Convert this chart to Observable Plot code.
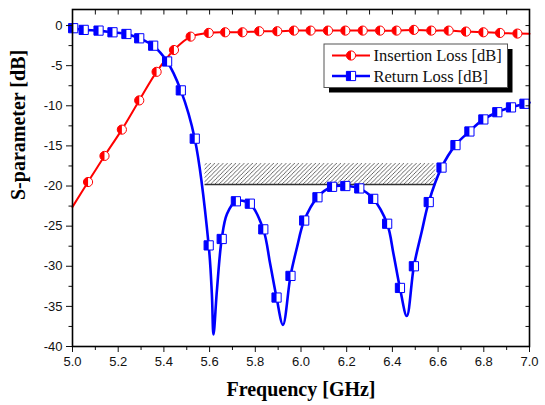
<!DOCTYPE html>
<html><head><meta charset="utf-8">
<script src="https://cdn.jsdelivr.net/npm/d3@7"></script>
<script src="https://cdn.jsdelivr.net/npm/@observablehq/plot@0.6"></script>
<style>
html,body{margin:0;padding:0;background:#fff;}
#chart{width:545px;height:405px;}
</style></head><body><div id="chart"></div>
<script>
// ---- Data ----
const xTitle = "Frequency [GHz]";
const yTitle = "S-parameter [dB]";
const seriesNames = ["Insertion Loss [dB]", "Return Loss [dB]"];

const xMajorTicks = [5.0, 5.2, 5.4, 5.6, 5.8, 6.0, 6.2, 6.4, 6.6, 6.8, 7.0];
const xMinorTicks = [5.1, 5.3, 5.5, 5.7, 5.9, 6.1, 6.3, 6.5, 6.7, 6.9];
const yMajorTicks = [0, -5, -10, -15, -20, -25, -30, -35, -40];
const yMinorTicks = [-2.5, -7.5, -12.5, -17.5, -22.5, -27.5, -32.5, -37.5];

// Insertion loss (S21): markers
const ilMarkFreq = [5.068, 5.140, 5.216, 5.292, 5.368, 5.444, 5.517, 5.596, 5.668, 5.744, 5.817, 5.896, 5.969, 6.042, 6.118, 6.194, 6.270, 6.346, 6.418, 6.494, 6.570, 6.646, 6.722, 6.798, 6.871, 6.947];
const ilMarkDb   = [-19.5, -16.25, -12.97, -9.33, -5.77, -3.05, -1.38, -0.92, -0.84, -0.84, -0.71, -0.71, -0.63, -0.63, -0.63, -0.63, -0.63, -0.63, -0.63, -0.54, -0.63, -0.63, -0.75, -0.84, -0.92, -1.0];
// Insertion loss: curve points
const ilLineFreq = [5.0, 5.068, 5.140, 5.216, 5.292, 5.368, 5.444, 5.517, 5.596, 5.668, 5.744, 5.817, 5.896, 5.969, 6.042, 6.118, 6.194, 6.270, 6.346, 6.418, 6.494, 6.570, 6.646, 6.722, 6.798, 6.871, 6.947, 7.0];
const ilLineDb   = [-22.6, -19.5, -16.25, -12.97, -9.33, -5.77, -3.05, -1.38, -0.92, -0.84, -0.84, -0.71, -0.71, -0.63, -0.63, -0.63, -0.63, -0.63, -0.63, -0.63, -0.54, -0.63, -0.63, -0.75, -0.84, -0.92, -1.0, -1.02];

// Return loss (S11): markers
const rlMarkFreq = [5.003, 5.049, 5.114, 5.175, 5.236, 5.292, 5.353, 5.414, 5.474, 5.535, 5.596, 5.653, 5.715, 5.776, 5.835, 5.893, 5.954, 6.014, 6.072, 6.136, 6.194, 6.255, 6.316, 6.377, 6.433, 6.494, 6.559, 6.615, 6.676, 6.737, 6.798, 6.859, 6.919, 6.978];
const rlMarkDb   = [-0.33, -0.54, -0.63, -0.84, -1.05, -1.59, -2.51, -4.48, -8.08, -14.1, -27.4, -26.6, -21.9, -22.2, -25.4, -33.9, -31.2, -24.3, -21.4, -20.1, -20.0, -20.3, -21.6, -24.7, -32.7, -30.0, -22.0, -17.7, -14.9, -13.2, -11.7, -10.8, -10.2, -9.75];
// Return loss: curve points (markers plus points read at the dips)
const rlLineFreq = [5.0, 5.049, 5.114, 5.175, 5.236, 5.292, 5.353, 5.414, 5.474, 5.535, 5.596, 5.610, 5.617, 5.632, 5.653, 5.676, 5.715, 5.776, 5.835, 5.865, 5.893, 5.921, 5.954, 5.982, 6.014, 6.072, 6.136, 6.194, 6.255, 6.316, 6.377, 6.405, 6.433, 6.463, 6.494, 6.529, 6.559, 6.615, 6.676, 6.737, 6.798, 6.859, 6.919, 6.978, 7.0];
const rlLineDb   = [-0.33, -0.54, -0.63, -0.84, -1.05, -1.59, -2.51, -4.48, -8.08, -14.1, -27.4, -33.5, -38.5, -33.0, -26.6, -23.5, -21.9, -22.2, -25.4, -29.7, -33.9, -37.3, -31.2, -27.7, -24.3, -21.4, -20.1, -20.0, -20.3, -21.6, -24.7, -28.5, -32.7, -36.2, -30.0, -25.6, -22.0, -17.7, -14.9, -13.2, -11.7, -10.8, -10.2, -9.75, -9.6];

// Hatched specification band
const bandFreq = [5.58, 6.59];
const bandDb = [-19.8, -17.2];

// ---- Build tables ----
const zip = (xs, ys) => xs.map((x, i) => ({x, y: ys[i]}));
const ilMarks = zip(ilMarkFreq, ilMarkDb), ilLine = zip(ilLineFreq, ilLineDb);
const rlMarks = zip(rlMarkFreq, rlMarkDb), rlLine = zip(rlLineFreq, rlLineDb);
const band = [{x1: bandFreq[0], x2: bandFreq[1], y1: bandDb[0], y2: bandDb[1]}];

// custom symbols
const squareFull = {draw(c, s) { const h = Math.sqrt(s) / 2; c.moveTo(-h, -h); c.lineTo(h, -h); c.lineTo(h, h); c.lineTo(-h, h); c.closePath(); }};
const squareLeft = {draw(c, s) { const h = Math.sqrt(s) / 2; c.moveTo(-h, -h); c.lineTo(0, -h); c.lineTo(0, h); c.lineTo(-h, h); c.closePath(); }};
const circleFull = {draw(c, s) { const r = Math.sqrt(s / Math.PI); c.moveTo(r, 0); c.arc(0, 0, r, 0, 2 * Math.PI); c.closePath(); }};
const circleLeft = {draw(c, s) { const r = Math.sqrt(s / Math.PI); c.moveTo(0, -r); c.arc(0, 0, r, -Math.PI / 2, Math.PI / 2, true); c.closePath(); }};

const RED = "#ff0000", BLUE = "#0000ff";
const sans = "Liberation Sans, Arial, sans-serif";
const serif = "Liberation Serif, Times New Roman, serif";
const xAllTicks = [...xMajorTicks, ...xMinorTicks];
const yAllTicks = [...yMajorTicks, ...yMinorTicks];
const blank = () => "";

const svg = Plot.plot({
  width: 545, height: 405,
  marginLeft: 72, marginRight: 16, marginTop: 9, marginBottom: 59,
  x: {domain: [5, 7]},
  y: {domain: [-40, 2]},
  style: {background: "white", fontFamily: sans, fontSize: "13px", color: "#111"},
  marks: [
    Plot.rect(band, {x1: "x1", x2: "x2", y1: "y1", y2: "y2", fill: "url(#hatch)"}),
    Plot.ruleY(band, {y: "y1", x1: "x1", x2: "x2", stroke: "#333", strokeWidth: 1.5}),
    Plot.line(ilLine, {x: "x", y: "y", stroke: RED, strokeWidth: 2, curve: "catmull-rom"}),
    Plot.line(rlLine, {x: "x", y: "y", stroke: BLUE, strokeWidth: 2.6, curve: "catmull-rom"}),
    Plot.dot(ilMarks, {x: "x", y: "y", symbol: circleFull, r: 4.6, fill: "white", stroke: RED, strokeWidth: 1}),
    Plot.dot(ilMarks, {x: "x", y: "y", symbol: circleLeft, r: 4.6, fill: RED, stroke: "none"}),
    Plot.dot(rlMarks, {x: "x", y: "y", symbol: squareFull, r: 5.2, fill: "white", stroke: BLUE, strokeWidth: 1}),
    Plot.dot(rlMarks, {x: "x", y: "y", symbol: squareLeft, r: 5.2, fill: BLUE, stroke: "none"}),
    Plot.axisX(xMajorTicks, {anchor: "bottom", tickSize: 6, tickPadding: 4, tickFormat: d => d.toFixed(1), fontSize: 13, label: null}),
    Plot.axisX(xMinorTicks, {anchor: "bottom", tickSize: 4, tickFormat: blank, label: null}),
    Plot.axisX(xAllTicks, {anchor: "top", tickSize: -4.5, tickFormat: blank, label: null}),
    Plot.axisY(yMajorTicks, {anchor: "left", tickSize: 6, tickPadding: 4, tickFormat: d => String(d), fontSize: 13, label: null}),
    Plot.axisY(yMinorTicks, {anchor: "left", tickSize: 3.5, tickFormat: blank, label: null}),
    Plot.axisY(yAllTicks, {anchor: "right", tickSize: -4.5, tickFormat: blank, label: null}),
    Plot.frame({stroke: "black", strokeWidth: 1.6}),
    Plot.text([xTitle], {frameAnchor: "bottom", dy: 49, fontFamily: serif, fontWeight: "bold", fontSize: 20, fill: "black"}),
    Plot.text([yTitle], {frameAnchor: "left", dx: -54, dy: 22, rotate: -90, fontFamily: serif, fontWeight: "bold", fontSize: 20, fill: "black"})
  ]
});

// hatch pattern
const s = d3.select(svg);
const defs = s.insert("defs", ":first-child");
const pat = defs.append("pattern").attr("id", "hatch").attr("patternUnits", "userSpaceOnUse")
  .attr("width", 4.2).attr("height", 4.2);
pat.append("path").attr("d", "M-1,1.05 L1.05,-1 M0,4.2 L4.2,0 M3.15,5.2 L5.2,3.15")
  .attr("stroke", "#444").attr("stroke-width", 0.8);

// legend (inside plot area)
const lg = s.append("g");
lg.append("rect").attr("x", 329).attr("y", 49).attr("width", 183.5).attr("height", 43.5).attr("fill", "black");
lg.append("rect").attr("x", 324).attr("y", 44).attr("width", 183.5).attr("height", 43.5).attr("fill", "white").attr("stroke", "#555").attr("stroke-width", 1);
const rows = [
  {name: seriesNames[0], color: RED, w: 2, full: circleFull, half: circleLeft, r: 4.6, y: 55.5},
  {name: seriesNames[1], color: BLUE, w: 2.6, full: squareFull, half: squareLeft, r: 5.2, y: 76}
];
for (const row of rows) {
  lg.append("line").attr("x1", 332).attr("x2", 370).attr("y1", row.y).attr("y2", row.y).attr("stroke", row.color).attr("stroke-width", row.w);
  const size = row.r * row.r * Math.PI;
  const p1 = d3.path(); row.full.draw(p1, size);
  const p2 = d3.path(); row.half.draw(p2, size);
  lg.append("path").attr("d", p1.toString()).attr("transform", `translate(351,${row.y})`).attr("fill", "white").attr("stroke", row.color).attr("stroke-width", 1);
  lg.append("path").attr("d", p2.toString()).attr("transform", `translate(351,${row.y})`).attr("fill", row.color);
  lg.append("text").attr("x", 373.5).attr("y", row.y).attr("dy", "0.35em")
    .style("text-anchor", "start").style("font-family", serif).style("font-size", "16.5px").style("fill", "#111")
    .text(row.name);
}

document.getElementById("chart").appendChild(svg);
</script>
</body></html>
